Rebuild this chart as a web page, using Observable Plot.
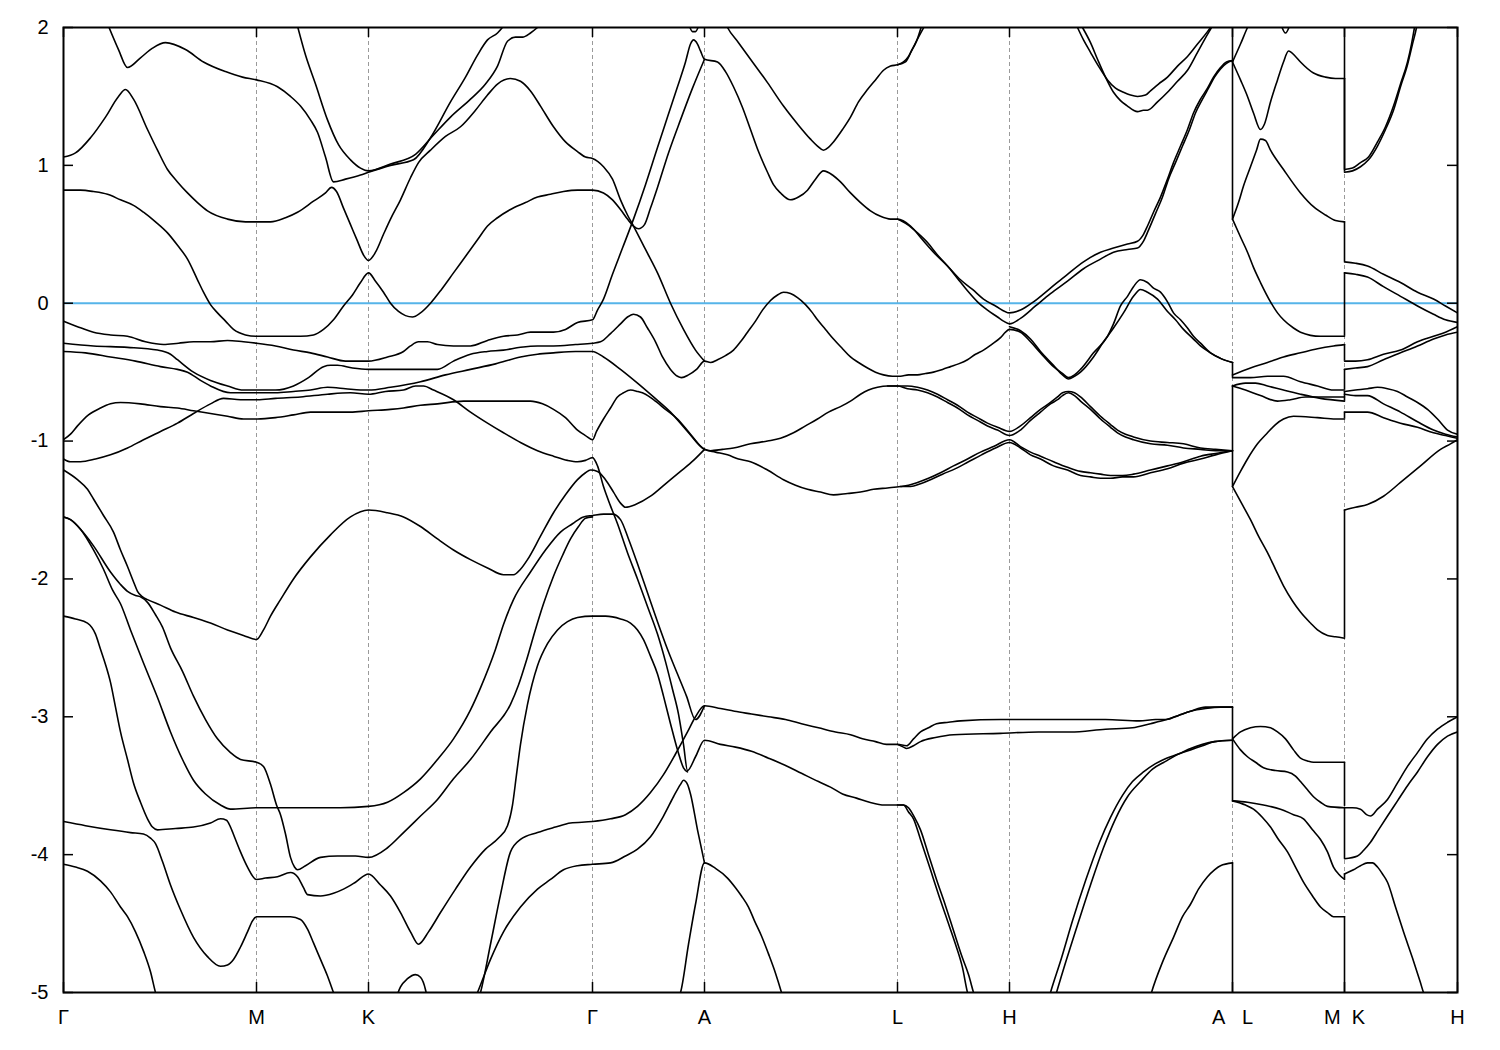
<!DOCTYPE html>
<html><head><meta charset="utf-8">
<script src="https://cdn.jsdelivr.net/npm/d3@7"></script>
<script src="https://cdn.jsdelivr.net/npm/@observablehq/plot@0.6"></script>
<style>body{margin:0;background:#fff}#chart svg{display:block}</style>
</head><body><div id="chart"></div>
<script>
// k-path distance (arbitrary units) of the high-symmetry points and their labels
const kTicks = [0, 193, 305, 529, 641, 834, 946, 1169, 1281, 1394];
const kLabels = ["Γ", "M", "K", "Γ", "A", "L", "H", "A\u00a0\u00a0\u00a0L", "M\u00a0\u00a0K", "H"];
const eTicks = [-5, -4, -3, -2, -1, 0, 1, 2];

// bands: flat [k, E(eV), k, E, ...]
const bandA = [0,-0.13,14,-0.17,30,-0.21,47,-0.23,64,-0.24,82,-0.28,100,-0.30,115,-0.29,130,-0.28,147,-0.28,164,-0.27,180,-0.28,193,-0.29,212,-0.31,230,-0.34,247,-0.36,264,-0.39,282,-0.42,297,-0.42,305,-0.42,324,-0.39,340,-0.35,347,-0.31,355,-0.28,364,-0.28,374,-0.30,390,-0.31,407,-0.31,424,-0.27,440,-0.24,454,-0.23,467,-0.21,490,-0.21,502,-0.19,514,-0.14,529,-0.12,
 534,-0.05,540,0.03,549,0.21,559,0.40,570,0.61,582,0.86,594,1.13,604,1.35,614,1.57,622,1.75,627,1.88,630,1.91,634,1.88,637,1.83,641,1.77,
 654,1.75,662,1.68,670,1.57,679,1.42,687,1.26,695,1.10,704,0.95,710,0.86,717,0.80,727,0.75,735,0.77,744,0.82,752,0.90,760,0.96,769,0.93,777,0.88,787,0.80,797,0.73,807,0.67,817,0.63,827,0.61,834,0.61,847,0.56,859,0.46,870,0.37,884,0.27,897,0.17,909,0.10,920,0.03,932,-0.02,946,-0.07,
 957,-0.05,970,0.01,987,0.11,1004,0.21,1020,0.30,1037,0.37,1050,0.40,1064,0.43,1074,0.45,1080,0.50,1084,0.56,1090,0.66,1097,0.77,1104,0.90,1110,1.02,1117,1.14,1124,1.26,1130,1.38,1137,1.48,1144,1.56,1150,1.64,1157,1.71,1163,1.75,1169,1.76];
const bandB = [0,-0.29,30,-0.31,64,-0.32,94,-0.34,107,-0.37,114,-0.41,130,-0.50,147,-0.56,164,-0.60,180,-0.63,194,-0.63,212,-0.63,230,-0.60,245,-0.54,260,-0.46,267,-0.45,274,-0.45,289,-0.47,305,-0.48,327,-0.48,347,-0.48,374,-0.48,390,-0.42,407,-0.37,424,-0.35,440,-0.34,457,-0.32,474,-0.31,490,-0.31,512,-0.30,529,-0.29,
 537,-0.28,547,-0.22,557,-0.15,564,-0.10,570,-0.08,577,-0.10,584,-0.18,592,-0.28,599,-0.39,607,-0.48,614,-0.53,618,-0.54,625,-0.52,633,-0.48,641,-0.42,
 647,-0.43,654,-0.41,662,-0.38,670,-0.34,677,-0.28,684,-0.21,692,-0.13,699,-0.05,707,0.02,714,0.06,720,0.08,727,0.07,734,0.04,742,-0.01,749,-0.07,754,-0.12,762,-0.19,770,-0.26,779,-0.33,787,-0.39,795,-0.43,804,-0.47,812,-0.50,820,-0.52,829,-0.53,837,-0.53,845,-0.52,854,-0.52,862,-0.51,870,-0.50,879,-0.48,887,-0.46,895,-0.44,904,-0.41,912,-0.37,920,-0.34,928,-0.30,937,-0.25,942,-0.21,946,-0.19,
 957,-0.21,967,-0.28,977,-0.36,990,-0.46,999,-0.51,1005,-0.54,1011,-0.52,1017,-0.48,1030,-0.36,1044,-0.24,1050,-0.15,1057,-0.02,1064,0.05,1070,0.12,1077,0.17,1084,0.15,1090,0.11,1097,0.08,1104,0.01,1110,-0.07,1117,-0.12,1124,-0.18,1130,-0.24,1137,-0.29,1147,-0.36,1157,-0.40,1169,-0.43];
const bandB2 = [946,-0.17,957,-0.20,967,-0.26,977,-0.35,990,-0.45,999,-0.52,1005,-0.55,1011,-0.53,1017,-0.50,1030,-0.39,1040,-0.28,1050,-0.18,1060,-0.07,1070,0.05,1077,0.10,1084,0.08,1094,0.03,1104,-0.06,1112,-0.12,1120,-0.19,1130,-0.26,1137,-0.31,1147,-0.36,1157,-0.40,1169,-0.43];
const bandC = [0,-0.35,22,-0.36,47,-0.39,72,-0.42,97,-0.46,114,-0.48,124,-0.50,137,-0.56,147,-0.60,167,-0.65,182,-0.65,194,-0.65,212,-0.65,230,-0.64,247,-0.63,264,-0.61,282,-0.62,297,-0.63,305,-0.63,327,-0.61,357,-0.57,382,-0.52,407,-0.48,432,-0.44,457,-0.39,474,-0.37,490,-0.36,512,-0.35,529,-0.35,
 540,-0.39,557,-0.48,574,-0.58,590,-0.68,607,-0.79,624,-0.93,641,-1.06,
 647,-1.07,659,-1.06,670,-1.05,687,-1.02,704,-1.00,717,-0.98,730,-0.94,742,-0.89,754,-0.84,765,-0.79,777,-0.75,787,-0.71,797,-0.66,805,-0.63,814,-0.61,824,-0.60,834,-0.60,844,-0.60,854,-0.61,864,-0.63,874,-0.66,884,-0.70,894,-0.74,904,-0.79,914,-0.83,924,-0.87,934,-0.90,946,-0.93,
 957,-0.89,967,-0.83,977,-0.77,987,-0.72,994,-0.68,999,-0.65,1005,-0.64,1011,-0.65,1017,-0.68,1027,-0.75,1037,-0.82,1047,-0.88,1054,-0.92,1062,-0.95,1070,-0.97,1087,-1.00,1104,-1.01,1120,-1.02,1137,-1.05,1152,-1.06,1169,-1.07];
const bandC2 = [824,-0.60,834,-0.60,844,-0.62,854,-0.63,864,-0.65,874,-0.68,884,-0.72,894,-0.76,904,-0.81,914,-0.85,924,-0.89,934,-0.92,946,-0.96,957,-0.92,967,-0.85,977,-0.79,987,-0.73,994,-0.70,999,-0.67,1005,-0.65,1011,-0.67,1017,-0.71,1027,-0.77,1037,-0.84,1047,-0.90,1054,-0.94,1062,-0.97,1070,-0.99,1087,-1.02,1104,-1.03,1120,-1.05,1137,-1.06,1152,-1.07,1169,-1.07];
const bandD = [0,-0.99,7,-0.95,14,-0.89,25,-0.81,37,-0.76,47,-0.73,57,-0.72,77,-0.73,97,-0.75,114,-0.76,130,-0.78,147,-0.80,164,-0.82,180,-0.84,194,-0.84,212,-0.83,230,-0.81,247,-0.79,264,-0.79,287,-0.79,305,-0.78,327,-0.77,340,-0.76,357,-0.74,374,-0.73,400,-0.71,422,-0.71,440,-0.71,457,-0.71,467,-0.71,479,-0.73,490,-0.77,502,-0.83,514,-0.92,522,-0.96,529,-0.99,533,-0.93,540,-0.84,547,-0.76,554,-0.68,560,-0.65,567,-0.63,574,-0.64,582,-0.66,590,-0.70,602,-0.77,614,-0.84,627,-0.95,641,-1.06,
 652,-1.08,664,-1.10,675,-1.13,687,-1.15,704,-1.21,720,-1.28,732,-1.32,744,-1.35,757,-1.37,770,-1.39,784,-1.38,797,-1.37,810,-1.35,824,-1.34,837,-1.33,845,-1.32,854,-1.30,865,-1.27,877,-1.23,890,-1.18,904,-1.13,917,-1.08,930,-1.04,946,-0.99,
 957,-1.04,967,-1.08,977,-1.11,990,-1.15,1004,-1.19,1017,-1.22,1027,-1.23,1037,-1.24,1047,-1.25,1059,-1.25,1070,-1.24,1087,-1.21,1104,-1.18,1120,-1.15,1137,-1.11,1152,-1.09,1169,-1.07];
const bandD2 = [837,-1.33,847,-1.33,857,-1.31,867,-1.28,879,-1.24,892,-1.20,905,-1.15,918,-1.10,932,-1.05,946,-1.01,957,-1.05,967,-1.10,977,-1.13,990,-1.18,1004,-1.21,1017,-1.25,1027,-1.26,1037,-1.27,1047,-1.27,1059,-1.26,1070,-1.26,1087,-1.23,1104,-1.20,1120,-1.16,1137,-1.13,1152,-1.10,1169,-1.07];
const bandE = [0,-1.13,7,-1.15,17,-1.15,32,-1.13,47,-1.10,64,-1.05,80,-0.99,97,-0.93,114,-0.87,130,-0.80,147,-0.73,160,-0.69,177,-0.70,194,-0.70,212,-0.69,237,-0.68,264,-0.66,287,-0.65,305,-0.66,322,-0.64,340,-0.63,352,-0.60,360,-0.60,370,-0.63,390,-0.70,407,-0.79,424,-0.87,440,-0.94,457,-1.01,474,-1.07,490,-1.11,504,-1.14,514,-1.15,522,-1.14,529,-1.12,
 534,-1.18,540,-1.33,547,-1.47,554,-1.60,564,-1.81,574,-2.00,584,-2.20,594,-2.40,602,-2.60,609,-2.80,615,-2.98,620,-3.20,624,-3.39,632,-3.29,641,-3.17,
 657,-3.20,672,-3.22,688,-3.25,705,-3.30,721,-3.35,738,-3.41,755,-3.47,767,-3.51,779,-3.56,793,-3.59,806,-3.62,821,-3.64,834,-3.64,840,-3.64,845,-3.69,850,-3.74,857,-3.89,867,-4.11,875,-4.29,884,-4.48,892,-4.65,899,-4.82,904,-5.00,906,-5.05];
const bandF = [0,-1.21,14,-1.28,24,-1.35,30,-1.42,40,-1.54,50,-1.66,57,-1.79,64,-1.91,70,-2.02,74,-2.09,79,-2.13,84,-2.15,97,-2.19,112,-2.24,130,-2.28,147,-2.32,164,-2.37,180,-2.41,193,-2.44,200,-2.37,207,-2.27,217,-2.15,230,-2.00,247,-1.84,267,-1.68,287,-1.55,305,-1.50,324,-1.52,340,-1.55,357,-1.62,374,-1.71,390,-1.79,407,-1.86,424,-1.92,440,-1.97,450,-1.97,457,-1.93,464,-1.86,477,-1.69,490,-1.52,502,-1.39,514,-1.28,522,-1.23,527,-1.21,534,-1.22,542,-1.28,550,-1.37,557,-1.45,562,-1.48,572,-1.46,587,-1.40,602,-1.31,617,-1.22,630,-1.14,641,-1.06];
const bandSA = [0,-1.55,7,-1.57,17,-1.64,30,-1.79,40,-1.93,49,-2.08,57,-2.18,67,-2.37,80,-2.61,94,-2.86,107,-3.11,119,-3.31,130,-3.46,142,-3.56,157,-3.64,167,-3.67,193,-3.66,237,-3.66,277,-3.66,305,-3.65,324,-3.62,340,-3.55,357,-3.45,374,-3.31,390,-3.16,407,-2.95,417,-2.79,432,-2.51,440,-2.33,450,-2.15,467,-1.95,482,-1.79,497,-1.66,509,-1.60,520,-1.55,529,-1.54,
 540,-1.53,549,-1.53,557,-1.57,565,-1.71,574,-1.89,584,-2.10,594,-2.31,604,-2.51,614,-2.69,623,-2.85,632,-3.02,641,-2.92];
const bandSB = [0,-1.55,7,-1.57,17,-1.64,30,-1.76,47,-1.95,57,-2.04,64,-2.09,72,-2.12,77,-2.13,84,-2.17,92,-2.26,99,-2.35,107,-2.50,119,-2.67,130,-2.85,142,-3.02,154,-3.16,167,-3.26,177,-3.31,193,-3.33,200,-3.36,207,-3.49,213,-3.64,217,-3.71,222,-3.85,227,-4.02,231,-4.09,234,-4.11,242,-4.08,257,-4.02,274,-4.01,292,-4.01,305,-4.02,324,-3.95,340,-3.84,357,-3.72,374,-3.60,390,-3.45,407,-3.31,427,-3.11,447,-2.91,455,-2.77,463,-2.59,471,-2.39,480,-2.18,490,-1.98,499,-1.83,507,-1.71,515,-1.62,522,-1.56,529,-1.55];
const bandG1 = [0,-2.27,12,-2.29,24,-2.32,32,-2.40,37,-2.51,42,-2.62,47,-2.75,52,-2.93,57,-3.11,64,-3.31,70,-3.48,77,-3.62,84,-3.74,89,-3.80,94,-3.82,112,-3.81,130,-3.80,147,-3.77,157,-3.74,163,-3.75,167,-3.80,172,-3.89,177,-3.98,184,-4.09,193,-4.18,202,-4.17,214,-4.16,227,-4.13,234,-4.16,240,-4.24,244,-4.29,257,-4.30,270,-4.28,280,-4.25,292,-4.20,305,-4.14,317,-4.22,327,-4.30,337,-4.42,347,-4.56,355,-4.65,365,-4.56,377,-4.42,392,-4.25,407,-4.09,422,-3.96,435,-3.88,444,-3.79,449,-3.64,453,-3.42,457,-3.20,464,-2.91,474,-2.63,484,-2.47,494,-2.37,504,-2.31,514,-2.28,529,-2.27,542,-2.27,557,-2.29,567,-2.32,574,-2.37,580,-2.44,587,-2.56,594,-2.69,600,-2.85,607,-3.05,614,-3.24,620,-3.37,624,-3.40];
const bandG2 = [0,-3.76,22,-3.79,47,-3.82,67,-3.84,80,-3.85,87,-3.88,92,-3.92,99,-4.05,107,-4.22,117,-4.40,130,-4.60,144,-4.74,157,-4.81,164,-4.80,170,-4.76,177,-4.67,184,-4.56,189,-4.48,193,-4.45,212,-4.45,227,-4.45,237,-4.47,244,-4.54,250,-4.64,257,-4.76,264,-4.88,270,-5.00,273,-5.05];
const bandG3 = [0,-4.07,12,-4.09,24,-4.12,37,-4.19,47,-4.27,57,-4.38,64,-4.45,72,-4.56,80,-4.70,87,-4.85,92,-5.00,94,-5.05];
const bandBump = [332,-5.05,337,-4.96,344,-4.90,352,-4.87,357,-4.89,362,-4.98,364,-5.05];
const bandL3 = [415,-5.05,417,-5.00,427,-4.65,437,-4.29,447,-3.98,457,-3.89,474,-3.84,492,-3.80,507,-3.77,529,-3.76,547,-3.74,562,-3.71,574,-3.65,587,-3.55,600,-3.42,612,-3.27,624,-3.11,632,-3.00,641,-2.92,
 657,-2.94,671,-2.96,688,-2.98,705,-3.00,722,-3.02,738,-3.05,755,-3.08,772,-3.11,787,-3.13,799,-3.16,812,-3.18,823,-3.20,834,-3.20,
 843,-3.21,850,-3.16,857,-3.11,865,-3.08,873,-3.05,885,-3.04,897,-3.03,937,-3.02,975,-3.02,1007,-3.02,1042,-3.02,1076,-3.03,1092,-3.02,1103,-3.02,1115,-2.99,1127,-2.96,1142,-2.93,1157,-2.93,1169,-2.93];
const bandL3b = [834,-3.20,840,-3.22,843,-3.23,850,-3.21,857,-3.18,872,-3.15,890,-3.13,937,-3.12,975,-3.11,1007,-3.11,1042,-3.09,1069,-3.08,1087,-3.05,1103,-3.02,1115,-2.99,1127,-2.96,1142,-2.94,1157,-2.93,1169,-2.93];
const bandL4 = [411,-5.05,414,-5.00,427,-4.76,440,-4.56,457,-4.38,474,-4.25,487,-4.18,500,-4.11,514,-4.08,529,-4.07,547,-4.06,562,-4.01,574,-3.96,587,-3.87,600,-3.72,610,-3.58,617,-3.49,620,-3.46,624,-3.49,627,-3.56,634,-3.82,641,-4.06];
const bandL5 = [614,-5.05,617,-5.00,625,-4.65,632,-4.36,641,-4.06,652,-4.10,664,-4.17,672,-4.24,678,-4.30,685,-4.38,691,-4.48,698,-4.59,705,-4.72,712,-4.86,718,-5.00,720,-5.05];
const bandV6 = [834,-3.64,840,-3.64,845,-3.66,851,-3.73,857,-3.82,865,-4.00,873,-4.18,882,-4.37,890,-4.55,899,-4.75,905,-4.87,910,-5.00,912,-5.05];
const bandT12 = [985,-5.05,987,-5.00,998,-4.75,1009,-4.48,1022,-4.19,1036,-3.91,1047,-3.73,1059,-3.57,1069,-3.47,1080,-3.40,1092,-3.34,1103,-3.30,1115,-3.27,1127,-3.23,1139,-3.20,1151,-3.18,1169,-3.17];
const bandT13 = [991,-5.05,993,-5.00,1003,-4.76,1014,-4.51,1027,-4.22,1040,-3.95,1052,-3.74,1064,-3.58,1077,-3.47,1089,-3.38,1103,-3.32,1115,-3.27,1127,-3.24,1139,-3.21,1151,-3.18,1169,-3.17];
const bandT14 = [1086,-5.05,1088,-5.00,1099,-4.78,1110,-4.60,1119,-4.45,1127,-4.36,1135,-4.25,1144,-4.16,1151,-4.11,1157,-4.08,1169,-4.06];
const bandC01 = [45,2.01,55,1.84,64,1.71,77,1.78,89,1.85,102,1.89,122,1.84,140,1.75,162,1.68,179,1.64,193,1.62,214,1.57,227,1.50,237,1.43,247,1.33,254,1.24,262,1.06,270,0.88,282,0.90,297,0.93,305,0.95,327,1.00,350,1.04,367,1.20,387,1.46,402,1.64,414,1.80,424,1.91,434,1.96,440,2.01];
const bandC02 = [234,2.01,242,1.80,252,1.59,264,1.33,275,1.15,287,1.04,297,0.98,305,0.96,327,1.01,352,1.08,370,1.22,387,1.35,407,1.48,422,1.59,434,1.72,444,1.90,452,1.93,459,1.93,467,1.96,474,2.00];
const bandC03 = [0,1.06,12,1.09,27,1.20,42,1.35,55,1.50,62,1.55,70,1.48,84,1.26,94,1.11,104,0.97,114,0.88,124,0.80,134,0.73,144,0.67,164,0.61,182,0.59,193,0.59,207,0.59,222,0.62,234,0.66,250,0.74,262,0.80,268,0.84,273,0.81,280,0.69,287,0.57,294,0.45,300,0.35,305,0.31,312,0.37,320,0.50,327,0.61,337,0.75,347,0.91,355,1.02,367,1.11,382,1.21,397,1.28,412,1.40,424,1.51,434,1.59,447,1.63,457,1.61,467,1.54,477,1.43,490,1.28,502,1.17,514,1.10,522,1.06,529,1.05,540,0.99,549,0.90,557,0.75,564,0.64,570,0.56,582,0.39,594,0.22,607,0.00,620,-0.19,632,-0.34,641,-0.42];
const bandC04 = [0,0.82,17,0.82,30,0.81,44,0.79,57,0.75,70,0.71,80,0.66,92,0.59,104,0.51,114,0.42,124,0.32,134,0.17,140,0.08,147,-0.01,154,-0.07,162,-0.13,170,-0.19,182,-0.23,193,-0.24,212,-0.24,237,-0.24,250,-0.23,260,-0.19,270,-0.12,280,-0.02,289,0.06,297,0.15,305,0.22,312,0.16,320,0.08,327,0.00,335,-0.06,342,-0.09,349,-0.10,357,-0.07,367,0.00,378,0.10,390,0.22,403,0.35,414,0.46,424,0.56,434,0.62,447,0.68,462,0.73,474,0.77,487,0.79,500,0.81,514,0.82,529,0.82,540,0.80,549,0.75,557,0.68,564,0.61,570,0.56,575,0.54,581,0.57,587,0.69,594,0.84,605,1.09,617,1.33,629,1.56,641,1.77];
const bandU1b = [834,0.61,844,0.57,854,0.51,864,0.44,874,0.35,884,0.27,894,0.18,904,0.09,914,0.01,924,-0.05,934,-0.10,940,-0.13,946,-0.15,957,-0.11,972,-0.02,987,0.07,1004,0.16,1020,0.25,1037,0.32,1050,0.37,1064,0.39,1074,0.40,1080,0.45,1085,0.53,1092,0.65,1099,0.77,1105,0.90,1112,1.02,1119,1.14,1126,1.26,1132,1.38,1139,1.48,1145,1.56,1151,1.64,1157,1.70,1163,1.74,1169,1.76];
const bandU2 = [662,2.03,664,2.00,675,1.89,687,1.77,704,1.60,720,1.43,734,1.30,747,1.19,754,1.14,760,1.11,765,1.13,770,1.17,779,1.26,787,1.35,795,1.46,804,1.55,812,1.62,820,1.69,827,1.72,834,1.73,840,1.75,845,1.79,850,1.86,855,1.93,861,2.01];
const bandU2b = [834,1.73,842,1.75,848,1.83,853,1.90,858,2.01];
const bandDip = [626,2.01,629,1.97,632,1.97,635,2.01];
const bandT3 = [1014,2.00,1020,1.91,1027,1.82,1035,1.72,1044,1.62,1052,1.56,1060,1.53,1067,1.51,1074,1.50,1082,1.51,1087,1.54,1095,1.59,1104,1.64,1114,1.72,1124,1.79,1134,1.88,1144,1.97,1148,2.01];
const bandT4 = [1019,2.00,1027,1.89,1034,1.77,1042,1.64,1050,1.53,1057,1.47,1064,1.43,1070,1.40,1074,1.39,1080,1.40,1084,1.40,1094,1.46,1104,1.53,1114,1.61,1124,1.69,1134,1.82,1144,1.95,1148,2.00];
// L -> M
const bandR1 = [1169,1.75,1177,1.88,1184,2.00,1186,2.03];
const bandR2 = [1169,1.75,1177,1.62,1184,1.50,1190,1.38,1197,1.26,1201,1.30,1207,1.46,1214,1.62,1220,1.75,1225,1.83,1232,1.79,1237,1.75,1250,1.67,1262,1.64,1272,1.63,1281,1.63];
const bandR3 = [1218,2.01,1222,1.96,1226,2.01];
const bandR4 = [1169,0.61,1175,0.73,1180,0.85,1187,0.99,1193,1.11,1197,1.19,1202,1.18,1207,1.11,1220,0.97,1237,0.80,1250,0.70,1262,0.64,1272,0.60,1281,0.59];
const bandR5 = [1169,0.61,1177,0.48,1184,0.37,1190,0.26,1197,0.15,1207,0.01,1214,-0.07,1220,-0.12,1230,-0.18,1237,-0.21,1257,-0.24,1281,-0.24];
const bandR6 = [1169,-0.52,1187,-0.47,1204,-0.43,1220,-0.39,1237,-0.36,1254,-0.33,1270,-0.31,1281,-0.30];
const bandR7 = [1169,-0.54,1187,-0.54,1204,-0.53,1220,-0.53,1237,-0.57,1254,-0.60,1270,-0.63,1281,-0.63];
const bandR8 = [1169,-0.60,1182,-0.58,1192,-0.58,1204,-0.60,1220,-0.63,1237,-0.66,1257,-0.69,1281,-0.71];
const bandR9 = [1169,-0.60,1182,-0.63,1197,-0.67,1214,-0.71,1227,-0.70,1242,-0.68,1262,-0.68,1281,-0.68];
const bandR10 = [1169,-1.33,1177,-1.22,1184,-1.13,1194,-1.02,1204,-0.94,1212,-0.88,1220,-0.84,1230,-0.82,1254,-0.83,1272,-0.84,1281,-0.84];
const bandR11 = [1169,-1.33,1178,-1.45,1187,-1.57,1195,-1.69,1204,-1.81,1212,-1.93,1220,-2.05,1229,-2.16,1237,-2.24,1247,-2.32,1254,-2.37,1264,-2.41,1272,-2.42,1281,-2.43];
const bandR12 = [1169,-3.16,1177,-3.11,1187,-3.08,1197,-3.07,1207,-3.08,1214,-3.11,1222,-3.16,1230,-3.24,1237,-3.30,1244,-3.32,1250,-3.33,1281,-3.33];
const bandR13 = [1169,-3.16,1177,-3.24,1184,-3.29,1192,-3.33,1200,-3.37,1212,-3.39,1224,-3.40,1232,-3.43,1237,-3.47,1244,-3.53,1250,-3.58,1257,-3.62,1264,-3.65,1281,-3.66];
const bandR14 = [1169,-3.61,1184,-3.62,1200,-3.64,1217,-3.67,1230,-3.71,1240,-3.74,1249,-3.82,1257,-3.89,1264,-3.98,1270,-4.09,1275,-4.14,1281,-4.18];
const bandR15 = [1169,-3.61,1182,-3.64,1190,-3.67,1199,-3.73,1207,-3.80,1215,-3.89,1224,-3.98,1232,-4.09,1240,-4.20,1249,-4.30,1257,-4.38,1264,-4.42,1270,-4.45,1281,-4.45];
// K -> H
const bandS1 = [1281,0.95,1289,0.96,1297,0.99,1305,1.04,1314,1.14,1322,1.26,1330,1.40,1337,1.57,1344,1.73,1349,1.88,1353,2.00,1354,2.04];
const bandS2 = [1281,0.97,1289,0.98,1297,1.02,1305,1.06,1314,1.17,1322,1.28,1330,1.43,1337,1.59,1344,1.75,1348,1.88,1351,2.00,1352,2.04];
const bandS3 = [1281,0.30,1292,0.29,1304,0.27,1320,0.21,1337,0.15,1354,0.08,1370,0.03,1382,-0.02,1394,-0.07];
const bandS4 = [1281,0.22,1292,0.21,1304,0.19,1320,0.12,1337,0.05,1354,-0.02,1370,-0.08,1382,-0.12,1394,-0.14];
const bandS5 = [1281,-0.42,1292,-0.42,1304,-0.41,1320,-0.37,1337,-0.34,1354,-0.28,1370,-0.24,1382,-0.21,1394,-0.17];
const bandS6 = [1281,-0.48,1292,-0.47,1304,-0.46,1320,-0.41,1337,-0.36,1354,-0.31,1370,-0.26,1382,-0.23,1394,-0.21];
const bandS7 = [1281,-0.64,1292,-0.63,1304,-0.62,1314,-0.61,1324,-0.62,1334,-0.64,1344,-0.68,1354,-0.72,1364,-0.77,1374,-0.84,1384,-0.92,1394,-0.95];
const bandS8 = [1281,-0.66,1292,-0.67,1304,-0.67,1320,-0.73,1337,-0.79,1354,-0.86,1370,-0.92,1382,-0.95,1394,-0.97];
const bandS9 = [1281,-0.79,1292,-0.79,1304,-0.79,1320,-0.83,1337,-0.87,1354,-0.90,1370,-0.94,1382,-0.96,1394,-0.98];
const bandS10 = [1281,-1.50,1292,-1.48,1304,-1.46,1320,-1.40,1337,-1.30,1357,-1.18,1377,-1.06,1387,-1.02,1394,-0.99];
const bandS11 = [1281,-3.66,1289,-3.66,1297,-3.67,1303,-3.71,1307,-3.72,1314,-3.67,1324,-3.60,1334,-3.48,1344,-3.36,1354,-3.26,1364,-3.16,1374,-3.09,1384,-3.04,1394,-3.00];
const bandS12 = [1281,-4.03,1294,-4.01,1300,-3.97,1307,-3.91,1315,-3.82,1324,-3.72,1334,-3.61,1344,-3.50,1354,-3.40,1364,-3.29,1374,-3.20,1384,-3.14,1394,-3.11];
const bandS13 = [1281,-4.14,1290,-4.11,1297,-4.08,1304,-4.06,1309,-4.06,1314,-4.09,1319,-4.14,1324,-4.20,1332,-4.38,1340,-4.56,1349,-4.75,1357,-4.93,1360,-5.00,1363,-5.05];

// energy jumps at the path discontinuities A|L and M|K: [from, to]
const jumpsAL = [[2.05,1.75],[1.76,0.61],[-0.43,-0.54],[-1.07,-0.60],[-1.07,-1.33],[-2.93,-3.16],[-3.17,-3.61],[-4.06,-5.05]];
const jumpsMK = [[2.05,0.97],[1.63,0.95],[0.59,0.30],[-0.24,0.22],[-0.30,-0.42],[-0.63,-0.48],[-0.71,-0.64],[-0.84,-0.79],[-2.43,-1.50],[-3.33,-3.65],[-3.66,-4.03],[-4.18,-4.14],[-4.45,-5.05]];

const bands = {bandA,bandB,bandB2,bandC,bandC2,bandD,bandD2,bandE,bandF,bandSA,bandSB,bandG1,bandG2,bandG3,bandBump,bandL3,bandL3b,bandL4,bandL5,bandV6,bandT12,bandT13,bandT14,bandC01,bandC02,bandC03,bandC04,bandU1b,bandU2,bandU2b,bandDip,bandT3,bandT4,bandR1,bandR2,bandR3,bandR4,bandR5,bandR6,bandR7,bandR8,bandR9,bandR10,bandR11,bandR12,bandR13,bandR14,bandR15,bandS1,bandS2,bandS3,bandS4,bandS5,bandS6,bandS7,bandS8,bandS9,bandS10,bandS11,bandS12,bandS13};
const rows = Object.entries(bands).flatMap(([id, a]) => d3.range(0, a.length, 2).map(i => ({id, k: a[i], E: a[i + 1]})));
const jumps = [
  ...jumpsAL.map(([e1, e2]) => ({k: kTicks[7], e1, e2})),
  ...jumpsMK.map(([e1, e2]) => ({k: kTicks[8], e1, e2}))
];
const labelOf = new Map(kTicks.map((k, i) => [k, kLabels[i]]));
const W = 1500, H = 1050, mL = 63, mR = 43, mT = 27, mB = 58;
const fw = W - mL - mR, fh = H - mT - mB, tick = 10;

const chart = Plot.plot({
  width: W, height: H,
  marginLeft: mL, marginRight: mR, marginTop: mT, marginBottom: mB,
  x: {domain: [kTicks[0], kTicks[kTicks.length - 1]], axis: null, label: null},
  y: {domain: [-5, 2], axis: null, label: null},
  style: {fontFamily: "'Liberation Sans', Arial, sans-serif", fontSize: "20px", color: "black", background: "white"},
  marks: [
    Plot.ruleX(kTicks.slice(1, -1), {stroke: "#9a9a9a", strokeWidth: 1, strokeDasharray: "4,3"}),
    Plot.ruleY([0], {stroke: "#56b4e9", strokeWidth: 2}),
    Plot.line(rows, {x: "k", y: "E", z: "id", curve: "monotone-x", stroke: "black", strokeWidth: 1.6, clip: true}),
    Plot.ruleX(jumps, {x: "k", y1: "e1", y2: "e2", stroke: "black", strokeWidth: 1.6, clip: true}),
    Plot.tickY(eTicks, {y: d => d, insetRight: fw - tick, stroke: "black", strokeWidth: 1.5}),
    Plot.tickY(eTicks, {y: d => d, insetLeft: fw - tick, stroke: "black", strokeWidth: 1.5}),
    Plot.tickX(kTicks, {x: d => d, insetBottom: fh - tick, stroke: "black", strokeWidth: 1.5}),
    Plot.tickX(kTicks, {x: d => d, insetTop: fh - tick, stroke: "black", strokeWidth: 1.5}),
    Plot.frame({stroke: "black", strokeWidth: 2}),
    Plot.axisY(eTicks, {tickSize: 0, tickPadding: 15, fontSize: 20, label: null, tickFormat: d => String(d)}),
    Plot.axisX(kTicks, {tickSize: 0, tickPadding: 17, fontSize: 20, label: null, tickFormat: d => labelOf.get(d)})
  ]
});
document.getElementById("chart").append(chart);
</script>
</body></html>
